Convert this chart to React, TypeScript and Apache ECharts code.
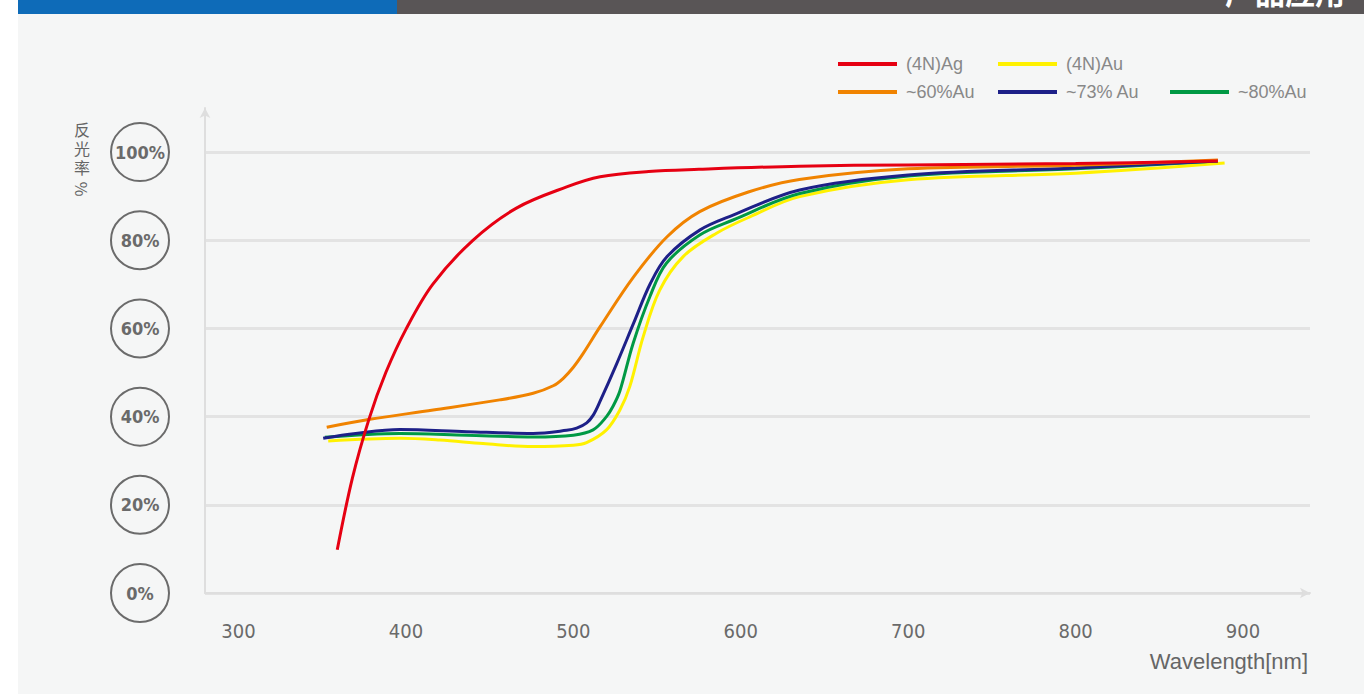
import React, { useEffect, useRef } from "react";
import * as echarts from "echarts";

// ---- data (wavelength nm, reflectance %) ----
const xTickValues = [300, 400, 500, 600, 700, 800, 900];
const yTickValues = [0, 20, 40, 60, 80, 100];

const ag: [number, number][] = [
  [359, 9.8], [368, 26], [378, 39.5], [388, 50], [400, 59.8], [416, 70],
  [440, 80], [466, 87.3], [496, 92.1], [516, 94.4], [545, 95.6], [575, 96.1],
  [635, 96.8], [700, 97.1], [800, 97.4], [885, 98],
];
const au: [number, number][] = [
  [353.6, 34.5], [396.4, 35.1], [420.3, 34.7], [446.1, 33.9], [476, 33.2], [500, 33.5],
  [507.9, 34.1], [519.8, 37], [527.8, 41.5], [533.7, 46.8], [541.7, 58.1], [551.6, 68.7],
  [565.6, 76.3], [585.5, 81.6], [605.4, 85.3], [635.2, 89.9], [700, 93.7], [800, 95.2], [889, 97.5],
];
const au60: [number, number][] = [
  [352.7, 37.6], [378.5, 39.4], [416.3, 41.5], [456, 43.8], [476, 45.3], [488, 47],
  [494, 48.7], [500, 51.2], [506, 54.4], [516, 60.4], [536, 71.7], [556, 80.8],
  [575.5, 86.5], [605, 91], [635, 93.8], [700, 96.2], [800, 97], [885, 98.2],
];
const au73: [number, number][] = [
  [350.6, 35.1], [370, 36.2], [396.4, 37.1], [436.2, 36.6], [476, 36.2], [496, 36.9],
  [502, 37.4], [508, 38.6], [512, 40.4], [516, 43.5], [526, 52.1], [536, 61.2],
  [546, 70.2], [556, 76.3], [575.5, 82.3], [595.4, 85.7], [635.2, 91.4], [700, 94.8],
  [800, 96.4], [885, 98],
];
const au80: [number, number][] = [
  [351.6, 35.3], [396.4, 36.2], [436.2, 35.8], [476, 35.4], [500, 35.8], [511.8, 37],
  [519.8, 40], [523.8, 42.4], [527.8, 45.8], [535.7, 56.6], [545.7, 67.2], [555.6, 74.8],
  [575.5, 81.2], [595.4, 84.6], [635.2, 90.6], [700, 94.6], [800, 96.2], [885, 98],
];

const colors: Record<string, string> = {
  "(4N)Ag": "#e60012",
  "(4N)Au": "#fff100",
  "~60%Au": "#f08300",
  "~73% Au": "#1d2088",
  "~80%Au": "#009944",
};

const numFont = '"Liberation Sans Narrow", "DejaVu Sans Condensed", Roboto, sans-serif';

function makeSeries(name: string, data: [number, number][]) {
  return {
    name,
    type: "line",
    data,
    smooth: 0.35,
    showSymbol: false,
    symbol: "none",
    color: colors[name],
    lineStyle: { color: colors[name], width: 3 },
  };
}

function makeLegend(name: string, left: number, top: number) {
  return {
    data: [name],
    left,
    top,
    padding: 0,
    itemWidth: 59,
    itemHeight: 4,
    icon: "rect",
    orient: "horizontal",
    selectedMode: false,
    textStyle: {
      fontSize: 18,
      color: "#888888",
      fontFamily: '"Liberation Sans", Arial, sans-serif',
      padding: [0, 0, 0, 4],
      lineHeight: 20,
    },
  };
}

function charText(ch: string, y: number, rot: number) {
  return {
    type: "text",
    x: 82,
    y,
    rotation: rot,
    silent: true,
    style: {
      text: ch,
      fill: "#666666",
      font: '16px "Noto Sans CJK SC"',
      lineHeight: 16,
      textAlign: "center",
      textVerticalAlign: "middle",
      align: "center",
      verticalAlign: "middle",
    },
  };
}

export default function App() {
  const ref = useRef<HTMLDivElement>(null);

  useEffect(() => {
    if (!ref.current) return;
    const chart = echarts.init(ref.current, null, { renderer: "svg" });
    const option: any = {
      animation: false,
      backgroundColor: "transparent",
      grid: { left: 205, right: 54, top: 108, bottom: 101, containLabel: false },
      legend: [
        makeLegend("(4N)Ag", 838, 54),
        makeLegend("(4N)Au", 998, 54),
        makeLegend("~60%Au", 838, 82),
        makeLegend("~73% Au", 998, 82),
        makeLegend("~80%Au", 1170, 82),
      ],
      xAxis: {
        type: "value",
        min: 280,
        max: 940,
        interval: 20,
        axisLine: {
          show: true,
          lineStyle: { color: "#dedede", width: 2 },
          symbol: ["none", "arrow"],
          symbolSize: [8, 10],
        },
        axisTick: { show: false },
        splitLine: { show: false },
        axisLabel: {
          margin: 28,
          fontSize: 20,
          color: "#6a6a6a",
          fontFamily: numFont,
          showMaxLabel: false,
          formatter: (v: number) => (xTickValues.indexOf(v) >= 0 ? String(v) : ""),
        },
      },
      yAxis: {
        type: "value",
        min: 0,
        max: 110,
        interval: 20,
        axisLine: {
          show: true,
          lineStyle: { color: "#dedede", width: 2 },
          symbol: ["none", "arrow"],
          symbolSize: [8, 10],
        },
        axisTick: { show: false },
        splitLine: {
          show: true,
          showMaxLine: false,
          lineStyle: { color: "#e3e3e3", width: 3 },
        },
        axisLabel: {
          margin: 36,
          showMaxLabel: false,
          formatter: (v: number) => (yTickValues.indexOf(v) >= 0 ? "{c|" + v + "%}" : ""),
          rich: {
            c: {
              width: 58,
              height: 58,
              lineHeight: 58,
              borderRadius: 31,
              borderColor: "#6b6b6b",
              borderWidth: 2,
              align: "center",
              verticalAlign: "middle",
              fontSize: 18,
              fontWeight: "bold",
              color: "#6a6a6a",
              fontFamily: numFont,
            },
          },
        },
      },
      graphic: [
        {
          type: "text",
          x: 1345,
          y: 6,
          silent: true,
          style: {
            text: "产品应用",
            fill: "#ffffff",
            font: 'bold 30px "Noto Sans CJK SC"',
            textAlign: "right",
            textVerticalAlign: "bottom",
            align: "right",
            verticalAlign: "bottom",
          },
        },
        {
          type: "text",
          x: 1308,
          y: 661,
          silent: true,
          style: {
            text: "Wavelength[nm]",
            fill: "#666666",
            font: '22px "Liberation Sans", Arial, sans-serif',
            textAlign: "right",
            textVerticalAlign: "middle",
            align: "right",
            verticalAlign: "middle",
          },
        },
        charText("反", 129, 0),
        charText("光", 148, 0),
        charText("率", 167, 0),
        charText("%", 189, -Math.PI / 2),
      ],
      series: [
        makeSeries("(4N)Au", au),
        makeSeries("~80%Au", au80),
        makeSeries("~73% Au", au73),
        makeSeries("~60%Au", au60),
        makeSeries("(4N)Ag", ag),
      ],
    };
    chart.setOption(option);
    return () => chart.dispose();
  }, []);

  return (
    <div style={{ position: "absolute", left: 0, top: 0, width: 1364, height: 694, background: "#ffffff", overflow: "hidden" }}>
      <div style={{ position: "absolute", left: 18, top: 14, width: 1346, height: 680, background: "#f5f6f6" }} />
      <div style={{ position: "absolute", left: 18, top: 0, width: 379, height: 14, background: "#0e6bb8" }} />
      <div style={{ position: "absolute", left: 397, top: 0, width: 967, height: 14, background: "#595556" }} />
      <div ref={ref} style={{ position: "absolute", left: 0, top: 0, width: 1364, height: 694 }} />
    </div>
  );
}
